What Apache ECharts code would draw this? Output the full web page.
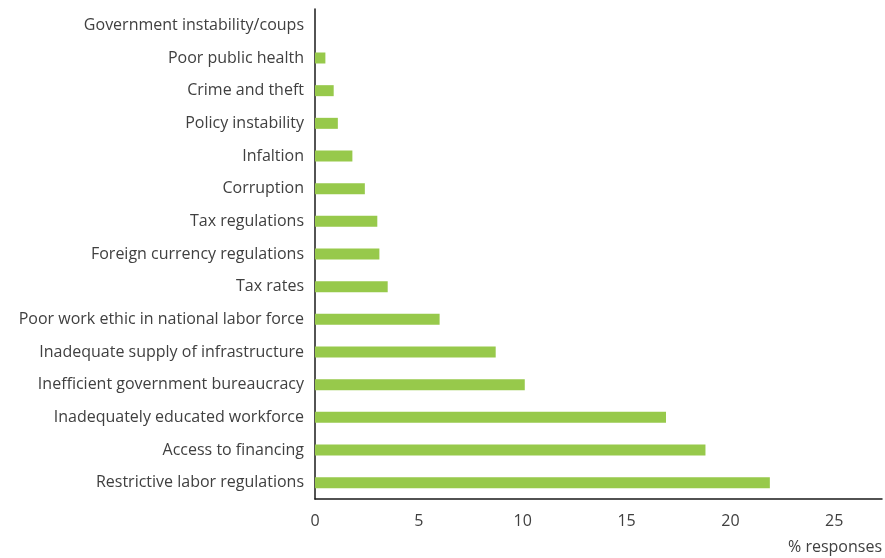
<!DOCTYPE html>
<html>
<head>
<meta charset="utf-8">
<script src="https://cdn.jsdelivr.net/npm/echarts@6/dist/echarts.min.js"></script>
<style>
  html, body { margin: 0; padding: 0; background: #fff; }
  #chart { width: 885px; height: 558px; }
</style>
</head>
<body>
<div id="chart"></div>
<script>
// Obstacles, listed bottom-to-top as the category axis draws them
const categories = [
  'Restrictive labor regulations',
  'Access to financing',
  'Inadequately educated workforce',
  'Inefficient government bureaucracy',
  'Inadequate supply of infrastructure',
  'Poor work ethic in national labor force',
  'Tax rates',
  'Foreign currency regulations',
  'Tax regulations',
  'Corruption',
  'Infaltion',
  'Policy instability',
  'Crime and theft',
  'Poor public health',
  'Government instability/coups'
];

// Share of responses (%)
const responses = [21.9, 18.8, 16.9, 10.1, 8.7, 6.0, 3.5, 3.1, 3.0, 2.4, 1.8, 1.1, 0.9, 0.5, 0];

const xTicks = [0, 5, 10, 15, 20, 25];
const xMax = 27.3;

const chart = echarts.init(document.getElementById('chart'));
const font = '"Open Sans", "Noto Sans", sans-serif';

chart.setOption({
  animation: false,
  grid: { left: 315, right: 3, top: 9, bottom: 59, containLabel: false },
  xAxis: {
    type: 'value',
    min: xTicks[0],
    max: xMax,
    interval: xTicks[1] - xTicks[0],
    splitLine: { show: false },
    axisTick: { show: false },
    axisLine: { show: true, lineStyle: { color: '#1a1a1a', width: 1.5 } },
    axisLabel: {
      showMaxLabel: false,
      color: '#404040',
      fontFamily: font,
      fontSize: 16,
      margin: 14
    },
    name: '% responses',
    nameLocation: 'end',
    nameGap: 0,
    nameTextStyle: {
      color: '#404040',
      fontFamily: font,
      fontSize: 16,
      align: 'right',
      verticalAlign: 'top',
      padding: [40, 0, 0, 0]
    }
  },
  yAxis: {
    type: 'category',
    data: categories,
    axisTick: { show: false },
    axisLine: { show: true, lineStyle: { color: '#1a1a1a', width: 1.5 } },
    axisLabel: {
      color: '#404040',
      fontFamily: font,
      fontSize: 16,
      margin: 11
    }
  },
  series: [{
    type: 'bar',
    data: responses,
    barWidth: 11,
    itemStyle: { color: '#97c94b' }
  }]
});
</script>
</body>
</html>
